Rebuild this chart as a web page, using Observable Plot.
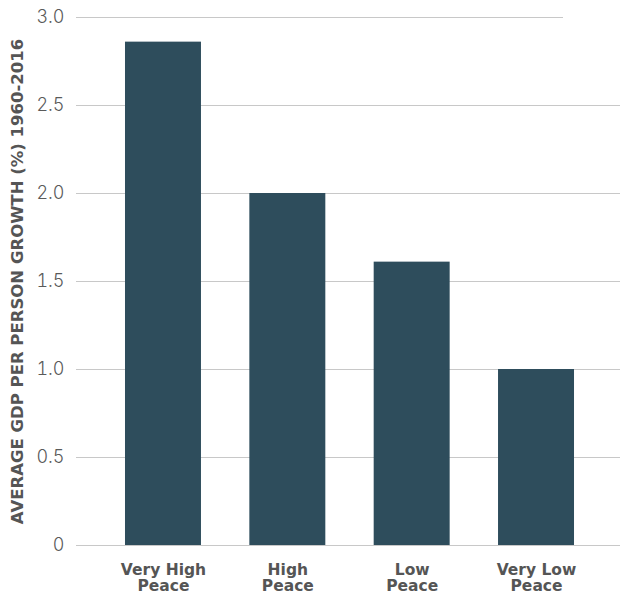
<!DOCTYPE html>
<html>
<head>
<meta charset="utf-8">
<script src="https://cdn.jsdelivr.net/npm/d3@7"></script>
<script src="https://cdn.jsdelivr.net/npm/@observablehq/plot@0.6"></script>
<style>
  html, body { margin: 0; padding: 0; background: #fff; }
  #chart svg { display: block; }
</style>
</head>
<body>
<div id="chart"></div>
<script>
const categories = ["Very High Peace", "High Peace", "Low Peace", "Very Low Peace"];
const tickLabels = ["Very High\nPeace", "High\nPeace", "Low\nPeace", "Very Low\nPeace"];
const values = [2.86, 2.0, 1.61, 1.0];
const yTicks = [0, 0.5, 1.0, 1.5, 2.0, 2.5, 3.0];
const yLabel = "AVERAGE GDP PER PERSON GROWTH (%) 1960-2016";

const data = categories.map((c, i) => ({category: c, value: values[i]}));
const labelOf = new Map(categories.map((c, i) => [c, tickLabels[i]]));

const boldFont = "'DejaVu Sans', sans-serif";

const plot = Plot.plot({
  width: 620,
  height: 595,
  marginLeft: 76,
  marginRight: -3,
  marginTop: 17,
  marginBottom: 50,
  style: {fontFamily: "Inter, 'Open Sans', sans-serif", background: "#fff", overflow: "hidden"},
  x: {domain: categories, paddingInner: 0.389, paddingOuter: 0.394, round: false},
  y: {domain: [0, 3]},
  marks: [
    Plot.ruleY(yTicks.filter(d => d < 3), {stroke: "#c8c8c8", strokeWidth: 1}),
    Plot.ruleY(yTicks.filter(d => d >= 3), {stroke: "#c8c8c8", strokeWidth: 1, insetRight: 60}),
    Plot.barY(data, {x: "category", y: "value", fill: "#2e4d5c"}),
    Plot.axisY({
      ticks: yTicks,
      tickSize: 0,
      tickPadding: 12,
      tickFormat: d => d === 0 ? "0" : d.toFixed(1),
      fontSize: 18,
      fontWeight: 300,
      fill: "#5a5a5a",
      label: null
    }),
    Plot.axisX({
      tickSize: 0,
      tickPadding: 18,
      tickFormat: d => labelOf.get(d),
      fontSize: 15.5,
      fontWeight: "bold",
      fontFamily: boldFont,
      lineHeight: 1.03,
      fill: "#555555",
      label: null
    }),
    Plot.text([yLabel], {
      text: d => d,
      frameAnchor: "left",
      rotate: -90,
      dx: -59,
      fontSize: 16.5,
      fontWeight: "bold",
      fontFamily: boldFont,
      fill: "#555555",
      textAnchor: "middle",
      lineAnchor: "middle"
    })
  ]
});
document.getElementById("chart").appendChild(plot);
</script>
</body>
</html>
